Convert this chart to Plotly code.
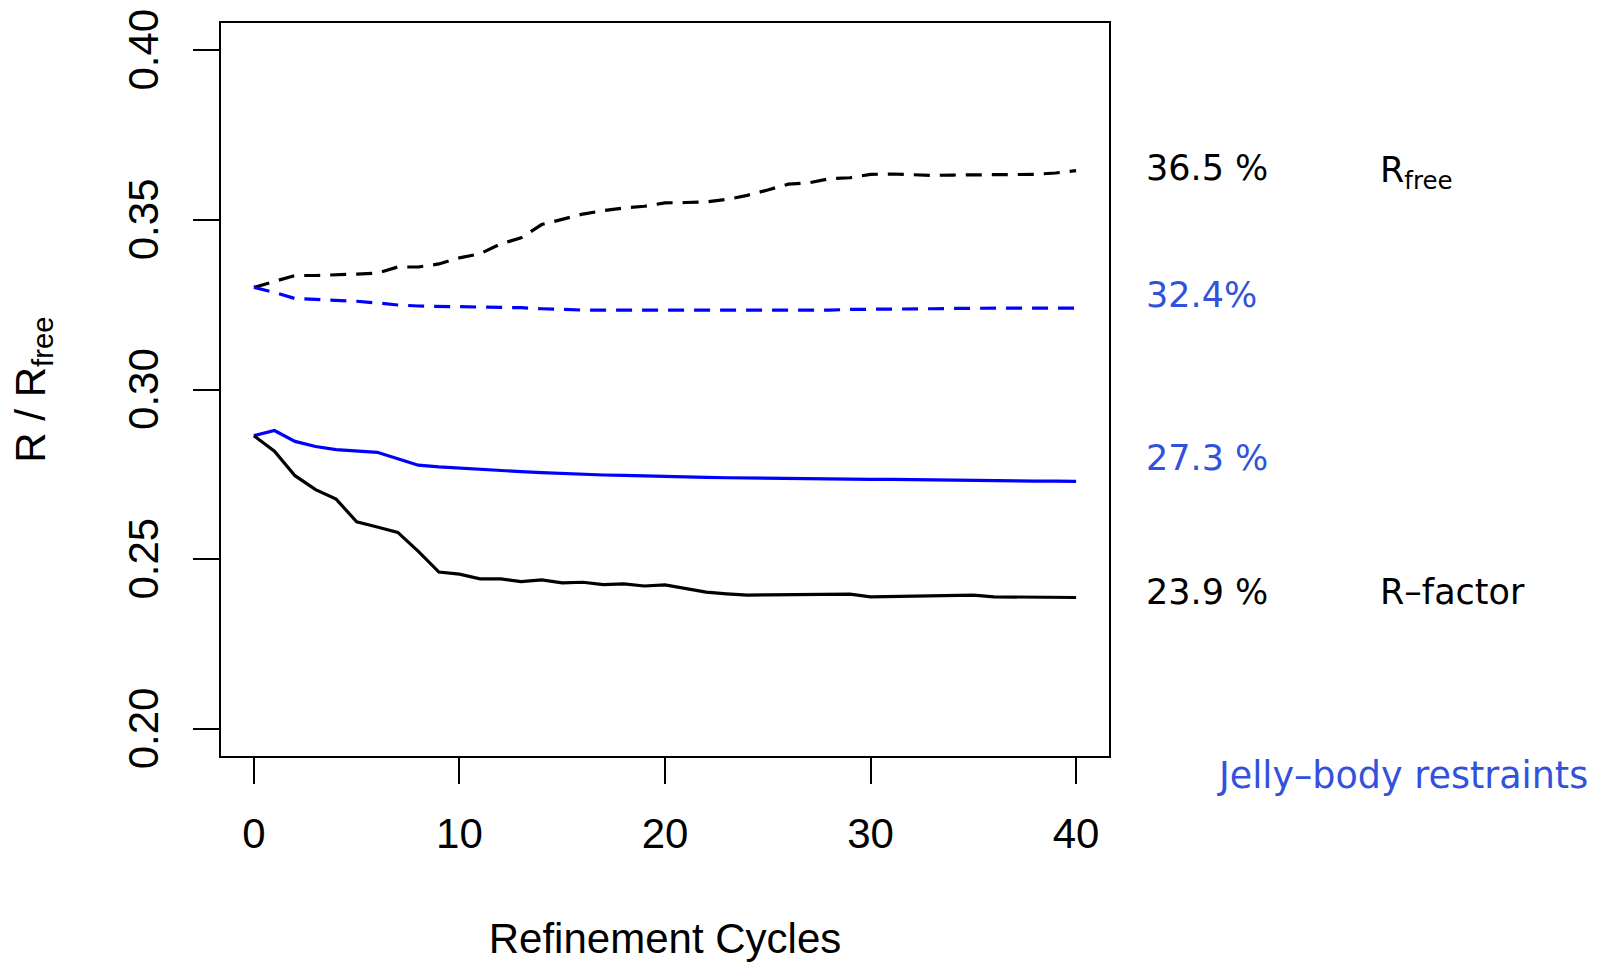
import plotly.graph_objects as go

# Refinement cycle index
cycles = list(range(41))

# R-factor / R-free per cycle, reference refinement (black)
r_factor_ref = [0.2864, 0.2818, 0.2746, 0.2705, 0.2677, 0.2610, 0.2595, 0.2579, 0.2523, 0.2462,
                0.2456, 0.2442, 0.2442, 0.2434, 0.2439, 0.2430, 0.2432, 0.2425, 0.2427, 0.2421,
                0.2424, 0.2414, 0.2403, 0.2398, 0.2394, 0.2395, 0.2395, 0.2397, 0.2397, 0.2397,
                0.2389, 0.2390, 0.2392, 0.2393, 0.2393, 0.2394, 0.2389, 0.2389, 0.2389, 0.2388,
                0.2387]
r_free_ref = [0.3301, 0.3319, 0.3336, 0.3336, 0.3337, 0.3340, 0.3343, 0.3361, 0.3361, 0.3370,
              0.3388, 0.3400, 0.3429, 0.3447, 0.3486, 0.3501, 0.3517, 0.3527, 0.3535, 0.3540,
              0.3550, 0.3551, 0.3553, 0.3560, 0.3572, 0.3588, 0.3605, 0.3609, 0.3621, 0.3624,
              0.3634, 0.3635, 0.3632, 0.3631, 0.3632, 0.3633, 0.3634, 0.3634, 0.3634, 0.3638,
              0.3645]

# R-factor / R-free per cycle with jelly-body restraints (blue)
r_factor_jelly = [0.2864, 0.2879, 0.2847, 0.2832, 0.2823, 0.2819, 0.2815, 0.2796, 0.2777, 0.2772,
                  0.2768, 0.2764, 0.2761, 0.2758, 0.2755, 0.2752, 0.2750, 0.2748, 0.2747, 0.2745,
                  0.2743, 0.2742, 0.2741, 0.2740, 0.2739, 0.2739, 0.2738, 0.2737, 0.2737, 0.2736,
                  0.2735, 0.2735, 0.2734, 0.2733, 0.2733, 0.2732, 0.2731, 0.2731, 0.2730, 0.2730,
                  0.2729]
r_free_jelly = [0.3301, 0.3286, 0.3268, 0.3266, 0.3264, 0.3260, 0.3255, 0.3249, 0.3246, 0.3245,
                0.3244, 0.3244, 0.3243, 0.3241, 0.3238, 0.3235, 0.3234, 0.3234, 0.3234, 0.3233,
                0.3234, 0.3234, 0.3234, 0.3234, 0.3234, 0.3234, 0.3234, 0.3234, 0.3234, 0.3236,
                0.3236, 0.3236, 0.3236, 0.3238, 0.3239, 0.3240, 0.3240, 0.3240, 0.3240, 0.3240,
                0.3240]

# Axis ticks (a trailing no-break space centres the rotated labels on their ticks)
x_ticks = [0, 10, 20, 30, 40]
y_ticks = [0.20, 0.25, 0.30, 0.35, 0.40]
y_tick_labels = ["0.20", "0.25", "0.30", "0.35", "0.40"]

BLUE = "#0000ff"
BLUE_TEXT = "#3352dc"

# Final-value labels to the right of the panel: (text, paper y, colour)
value_labels = [("36.5 %", 0.802, "black"), ("32.4%", 0.629, BLUE_TEXT),
                ("27.3 %", 0.407, BLUE_TEXT), ("23.9 %", 0.224, "black")]
name_labels = [("R<sub>free</sub>", 0.796), ("R–factor", 0.224)]
legend_note = "Jelly–body restraints"

AXIS_FONT = dict(family="Liberation Sans, Arial, sans-serif", size=42, color="black")
NOTE_FONT = "DejaVu Sans, Verdana, sans-serif"
DASH = "16px,10px"
LW = 3.2

fig = go.Figure()
fig.add_trace(go.Scatter(x=cycles, y=r_free_ref, mode="lines",
                         line=dict(color="black", width=LW, dash=DASH)))
fig.add_trace(go.Scatter(x=cycles, y=r_free_jelly, mode="lines",
                         line=dict(color=BLUE, width=LW, dash=DASH)))
fig.add_trace(go.Scatter(x=cycles, y=r_factor_jelly, mode="lines",
                         line=dict(color=BLUE, width=LW)))
fig.add_trace(go.Scatter(x=cycles, y=r_factor_ref, mode="lines",
                         line=dict(color="black", width=LW)))

for text, yv, col in value_labels:
    fig.add_annotation(x=1.0395, y=yv, xref="paper", yref="paper", text=text, showarrow=False,
                       xanchor="left", yanchor="middle",
                       font=dict(family=NOTE_FONT, size=35, color=col))
for text, yv in name_labels:
    fig.add_annotation(x=1.3025, y=yv, xref="paper", yref="paper", text=text, showarrow=False,
                       xanchor="left", yanchor="middle",
                       font=dict(family=NOTE_FONT, size=35, color="black"))
fig.add_annotation(x=1.1195, y=-0.026, xref="paper", yref="paper", text=legend_note,
                   showarrow=False, xanchor="left", yanchor="middle",
                   font=dict(family=NOTE_FONT, size=36.5, color=BLUE_TEXT))

fig.update_layout(
    width=1608, height=962,
    margin=dict(l=221, r=499, t=23, b=206),
    paper_bgcolor="white", plot_bgcolor="white",
    showlegend=False,
    font=AXIS_FONT,
)
fig.update_xaxes(
    range=[-1.6, 41.6], tickvals=x_ticks, ticks="outside", ticklen=26, tickwidth=1.5,
    tickcolor="black", showline=True, linecolor="black", linewidth=2, mirror=True,
    showgrid=False, zeroline=False, tickfont=AXIS_FONT, ticklabelstandoff=14,
    automargin=False, ticklabeloverflow="allow",
    title=dict(text="Refinement Cycles", font=AXIS_FONT, standoff=67),
)
fig.update_yaxes(
    range=[0.192, 0.408], tickvals=y_ticks,
    ticktext=[t + "\u00a0" for t in y_tick_labels], tickangle=-90,
    ticks="outside", ticklen=26, tickwidth=1.5, tickcolor="black",
    showline=True, linecolor="black", linewidth=2, mirror=True,
    showgrid=False, zeroline=False, tickfont=AXIS_FONT, ticklabelstandoff=18,
    automargin=False, ticklabeloverflow="allow",
    title=dict(text="R / R<sub>free</sub>", font=AXIS_FONT, standoff=62),
)

fig.write_html("out.html")
